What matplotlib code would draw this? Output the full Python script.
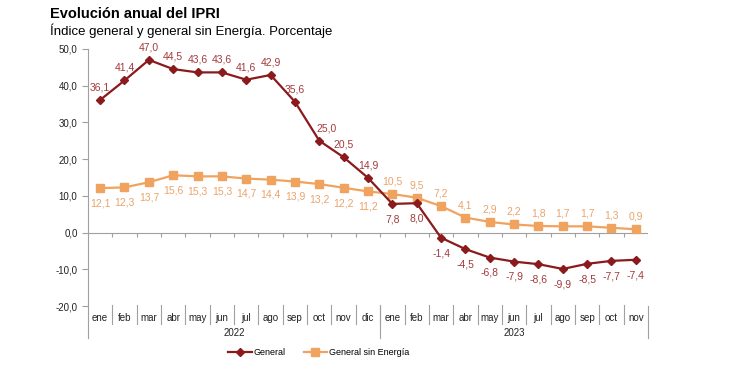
import matplotlib.pyplot as plt
import matplotlib.transforms as mtransforms
import numpy as np

plt.rcParams['font.family'] = ['Liberation Sans', 'DejaVu Sans']

months = ['ene', 'feb', 'mar', 'abr', 'may', 'jun', 'jul', 'ago', 'sep', 'oct', 'nov', 'dic',
          'ene', 'feb', 'mar', 'abr', 'may', 'jun', 'jul', 'ago', 'sep', 'oct', 'nov']
years = ['2022', '2023']
year_len = [12, 11]
general = [36.1, 41.4, 47.0, 44.5, 43.6, 43.6, 41.6, 42.9, 35.6, 25.0, 20.5, 14.9,
           7.8, 8.0, -1.4, -4.5, -6.8, -7.9, -8.6, -9.9, -8.5, -7.7, -7.4]
sin_energia = [12.1, 12.3, 13.7, 15.6, 15.3, 15.3, 14.7, 14.4, 13.9, 13.2, 12.2, 11.2,
               10.5, 9.5, 7.2, 4.1, 2.9, 2.2, 1.8, 1.7, 1.7, 1.3, 0.9]
# label below the point?
general_below = [False] * 12 + [True] * 11
sin_below = [True] * 12 + [False] * 11

c_gen = '#8b1a1d'
c_gen_txt = '#a23a3c'
c_sin = '#f0a35e'
c_sin_txt = '#e9a46a'
axis_col = '#a0a0a0'
txt_col = '#222222'

def fmt(v):
    return f'{v:.1f}'.replace('.', ',')

fig = plt.figure(figsize=(7.5, 3.76), dpi=100)
ax = fig.add_axes([0.1173, 0.186, 0.7467, 0.684])

x = np.arange(len(months))
ax.plot(x, sin_energia, color=c_sin, lw=1.6, marker='s', ms=5.5, label='General sin Energía', zorder=3)
ax.plot(x, general, color=c_gen, lw=1.6, marker='D', ms=4, label='General', zorder=4)

for i in x:
    dx = 5 if i == 9 else 0
    off = -11 if general_below[i] else 9
    ax.annotate(fmt(general[i]), (i, general[i]), xytext=(dx, off), textcoords='offset points',
                ha='center', va='center', fontsize=7.5, color=c_gen_txt)
    off = -11 if sin_below[i] else 9
    ax.annotate(fmt(sin_energia[i]), (i, sin_energia[i]), xytext=(0, off), textcoords='offset points',
                ha='center', va='center', fontsize=7.5, color=c_sin_txt)

ax.set_xlim(-0.5, len(months) - 0.5)
ax.set_ylim(-20, 50)
ax.set_yticks(np.arange(-20, 51, 10))
ax.set_yticklabels([fmt(v) for v in np.arange(-20, 51, 10)], fontsize=7, color=txt_col)
ax.tick_params(axis='y', length=4, color=axis_col, width=0.8)
ax.set_xticks([])
for s in ['top', 'right', 'bottom']:
    ax.spines[s].set_visible(False)
ax.spines['left'].set_color(axis_col)
ax.spines['left'].set_linewidth(0.8)

# zero line with small ticks at category boundaries
ax.axhline(0, color=axis_col, lw=0.8, zorder=1)
bounds = np.arange(len(months) + 1) - 0.5
ax.vlines(bounds[1:], -1.2, 0, color=axis_col, lw=0.8)

# category box below the plot
trans = mtransforms.blended_transform_factory(ax.transData, ax.transAxes)
for i, m in enumerate(months):
    ax.text(i, -0.045, m, transform=trans, ha='center', va='center', fontsize=7, color=txt_col)
for b in bounds[1:-1]:
    ax.plot([b, b], [0.005, -0.07], transform=trans, color=axis_col, lw=0.8, clip_on=False)
starts = np.concatenate([[0], np.cumsum(year_len)]) - 0.5
for b in starts:
    ax.plot([b, b], [0, -0.125], transform=trans, color=axis_col, lw=0.8, clip_on=False)
for k, y in enumerate(years):
    ax.text((starts[k] + starts[k + 1]) / 2, -0.105, y, transform=trans, ha='center', va='center',
            fontsize=7, color=txt_col)

h, l = ax.get_legend_handles_labels()
fig.legend(h[::-1], l[::-1], loc='center', bbox_to_anchor=(0.425, 0.063), ncol=2, frameon=False,
           fontsize=6.5, handlelength=2.6, columnspacing=2.0, handletextpad=0.2)

fig.text(0.067, 0.963, 'Evolución anual del IPRI', fontsize=10.5, fontweight='bold', va='center')
fig.text(0.067, 0.918, 'Índice general y general sin Energía. Porcentaje', fontsize=9.5, va='center')

fig.savefig('out.png', dpi=100)
